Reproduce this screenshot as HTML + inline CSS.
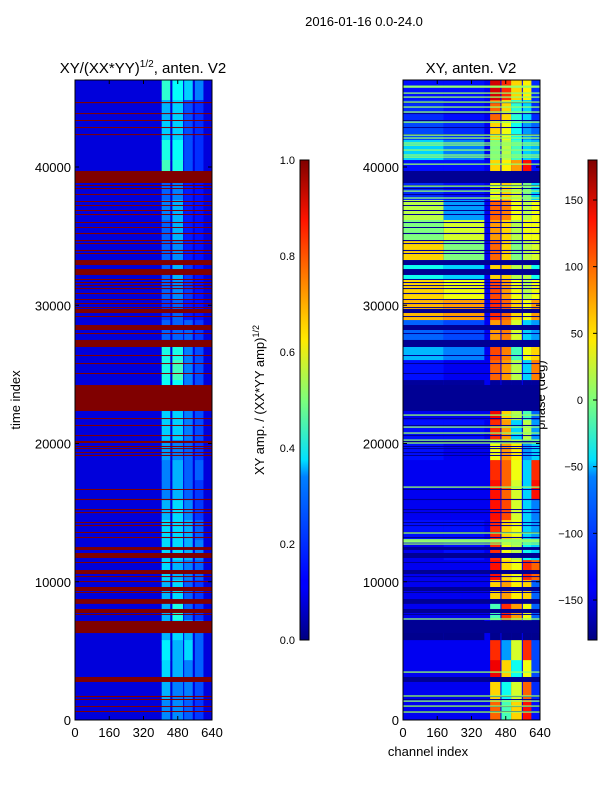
<!DOCTYPE html>
<html><head><meta charset="utf-8"><style>
html,body{margin:0;padding:0;background:#fff;width:600px;height:800px;overflow:hidden}
text{font-family:"Liberation Sans","DejaVu Sans",sans-serif;fill:#000}
</style></head><body>
<svg id="fig" width="600" height="800" viewBox="0 0 600 800" xmlns="http://www.w3.org/2000/svg">
<defs>
<linearGradient id="jetg" x1="0" y1="1" x2="0" y2="0">
<stop offset="0" stop-color="#000080"/><stop offset="0.11" stop-color="#0000ff"/><stop offset="0.125" stop-color="#0000ff"/><stop offset="0.34" stop-color="#0080ff"/><stop offset="0.375" stop-color="#00e0ff"/><stop offset="0.5" stop-color="#7dff7a"/><stop offset="0.625" stop-color="#ffea00"/><stop offset="0.66" stop-color="#ffd000"/><stop offset="0.875" stop-color="#ff1300"/><stop offset="1" stop-color="#800000"/>
</linearGradient>
<clipPath id="clipL"><rect x="75" y="80" width="137" height="640"/></clipPath>
<clipPath id="clipR"><rect x="403" y="80" width="137" height="640"/></clipPath>
</defs>
<text x="364" y="26" font-size="13" text-anchor="middle">2016-01-16 0.0-24.0</text>
<text x="143" y="73" font-size="15" text-anchor="middle">XY/(XX*YY)<tspan font-size="10" dy="-6">1/2</tspan><tspan dy="6">, anten. V2</tspan></text>
<text x="471" y="73" font-size="15" text-anchor="middle">XY, anten. V2</text>
<text x="20" y="400" font-size="13" text-anchor="middle" transform="rotate(-90 20 400)">time index</text>
<text x="428" y="756" font-size="13" text-anchor="middle">channel index</text>
<text x="545" y="395" font-size="13" text-anchor="middle" transform="rotate(-90 545 395)">phase (deg)</text>
<g id="gL" clip-path="url(#clipL)"></g>
<g id="gR" clip-path="url(#clipR)"></g>
<rect x="75" y="80" width="137" height="640" fill="none" stroke="#000" stroke-width="1"/>
<rect x="403" y="80" width="137" height="640" fill="none" stroke="#000" stroke-width="1"/>
<g id="axes"></g>
<text x="264" y="400" font-size="13" text-anchor="middle" transform="rotate(-90 264 400)">XY amp. / (XX*YY amp)<tspan font-size="9" dy="-5">1/2</tspan></text>
<rect x="300" y="160" width="9" height="480" fill="url(#jetg)" stroke="#000" stroke-width="1"/>
<rect x="588" y="160" width="9" height="480" fill="url(#jetg)" stroke="#000" stroke-width="1"/>
</svg>
<script>
// ---- data ----
const flaggedStart=[44620,43830,43330,42820,42310,38840,38630,38410,37980,37470,37180,36820,36530,35950,35590,35150,34640,34430,33920,33710,32910,32190,31830,31610,31390,31170,30810,30380,30090,29800,29440,29150,28210,27920,26980,26330,25750,25030,22350,21770,21270,20540,20040,19750,19600,19310,19100,16640,15910,15190,14970,14250,14030,13530,13160,12300,11720,11360,10560,10340,9980,9330,9190,8400,7740,7600,6290,2750,1660,1450,940,580];
const flaggedEnd=[44700,43900,43400,42890,42380,39710,38700,38480,38050,37540,37250,36890,36600,36020,35660,35230,34720,34500,34000,33780,33270,32620,31900,31680,31460,31250,30890,30450,30160,29870,29730,29220,28570,27990,27490,26400,25820,25100,24230,21840,21340,20610,20180,19820,19670,19380,19170,16710,15990,15260,15040,14320,14100,13600,13240,12510,12080,11430,10850,10410,10050,9620,9260,8750,8030,7670,7160,3110,1740,1520,1010,650];
const rowSize=1447;
const ampSegStart=[405,455,510,560];
const ampSegEnd=[445,505,550,600];
const ampBackground=0.09;
// rows listed top (latest time) to bottom
const ampRows=[
[0.42,0.38,0.33,0.25],[0.3,0.33,0.2,0.17],[0.33,0.33,0.2,0.17],[0.4,0.38,0.2,0.17],
[0.44,0.4,0.2,0.17],[0.22,0.25,0.15,0.14],[0.25,0.3,0.15,0.14],[0.22,0.3,0.15,0.14],
[0.22,0.26,0.15,0.14],[0.22,0.3,0.18,0.14],[0.22,0.26,0.18,0.14],[0.18,0.22,0.15,0.14],
[0.22,0.22,0.22,0.18],[0.4,0.4,0.25,0.2],[0.4,0.44,0.25,0.2],[0.38,0.38,0.25,0.2],
[0.33,0.33,0.25,0.2],[0.33,0.33,0.25,0.2],[0.28,0.25,0.22,0.18],[0.25,0.3,0.22,0.22],
[0.25,0.3,0.22,0.18],[0.3,0.34,0.26,0.18],[0.34,0.34,0.3,0.22],[0.34,0.34,0.3,0.25],
[0.34,0.3,0.25,0.22],[0.3,0.34,0.22,0.18],[0.3,0.4,0.22,0.18],[0.3,0.34,0.3,0.22],
[0.36,0.3,0.34,0.22],[0.34,0.3,0.25,0.22],[0.3,0.25,0.25,0.2],[0.26,0.26,0.22,0.18]];
const phSegStart=[0,190,407,460,505,560,600];
const phSegEnd=[190,380,455,505,555,600,640];
const phRows=[
[-130,-130,150,120,60,50,-120],[-120,-130,100,60,-30,-60,-120],[-110,-120,60,40,-40,-80,-100],[-60,-90,0,20,-20,-60,-70],
[-130,-130,60,50,80,130,-130],[-120,-130,40,60,30,0,-60],[20,-80,100,90,40,20,40],[0,30,80,60,20,40,40],
[60,0,100,60,0,20,30],[-40,-60,60,60,20,20,-40],[60,40,110,80,40,20,40],[70,80,120,100,60,40,80],
[-100,-110,80,90,30,-60,-80],[-70,-90,110,90,-20,40,60],[-130,-140,100,80,20,-60,90],[-170,-170,-170,-170,-170,-170,-170],
[-140,-140,140,60,20,-20,-100],[-130,-130,120,80,-60,20,-80],[-130,-140,40,80,50,-80,-60],[-140,-140,120,100,40,-60,120],
[-140,-140,130,100,30,-60,130],[-140,-140,130,110,30,-60,-90],[-130,-130,120,60,40,-60,-80],[-140,-130,120,40,20,-40,-60],
[-140,-140,130,60,40,120,100],[-140,-140,60,80,50,60,-100],[-140,-140,-20,120,80,40,-100],[-175,-175,-175,-175,-175,-175,-175],
[-140,-140,120,-80,30,120,-110],[-140,-140,140,60,-40,40,-110],[-140,-140,60,-40,30,100,-120],[-140,-140,100,-20,60,130,-130]];
const phBackground=-140;
const greenLineTimes=[45780,45850,45350,45060,44700,44340,43980,43250,42310,42100,41740,41590,41230,40870,40720,40210,38620,38260,37760,22060,21190,20760,20250,20040,16850,13530,12880,12960,13040,12730,7310,3470,1740,1370,1010,580];
const timeTicks=[0,10000,20000,30000,40000];
const chanTicks=[0,160,320,480,640];
const ampTicks=[0,0.2,0.4,0.6,0.8,1.0];
const ampTickLabels=["0.0","0.2","0.4","0.6","0.8","1.0"];
const phTicks=[-150,-100,-50,0,50,100,150];
const phTickLabels=["\u2212150","\u2212100","\u221250","0","50","100","150"];
// ---- scales ----
const NS="http://www.w3.org/2000/svg";
const yT=t=>720-t*0.013825;
const xL=c=>75+c*137/640;
const xR=c=>403+c*137/640;
const yAmp=v=>640-v*480;
const yPh=p=>400-p*480/360;
function jet(v){v=Math.max(0,Math.min(1,v));const cl=x=>Math.round(255*Math.max(0,Math.min(1,x)));
return `rgb(${cl(1.5-Math.abs(4*v-3))},${cl(1.5-Math.abs(4*v-2))},${cl(1.5-Math.abs(4*v-1))})`;}
function mk(tag,attrs,parent){const e=document.createElementNS(NS,tag);for(const k in attrs)e.setAttribute(k,attrs[k]);parent.appendChild(e);return e;}
const gL=document.getElementById('gL'),gR=document.getElementById('gR'),ax=document.getElementById('axes');
const tTop=(720-80)/0.013825;
let bgL=mk('rect',{x:xL(0),y:80,width:137,height:640,fill:jet(ampBackground)},gL);


let bgR=mk('rect',{x:xR(0),y:80,width:137,height:640,fill:jet((phBackground+180)/360)},gR);


for(let i=0;i<ampRows.length;i++){
  const t1=tTop-i*rowSize, t0=t1-rowSize;
  for(let j=0;j<ampSegStart.length;j++){
    const r=mk('rect',{x:xL(ampSegStart[j]),y:yT(t1),width:xL(ampSegEnd[j])-xL(ampSegStart[j]),height:yT(t0)-yT(t1)+0.5,fill:jet(ampRows[i][j])},gL);
    
    
  }
}
for(let i=0;i<phRows.length;i++){
  const t1=tTop-i*rowSize, t0=t1-rowSize;
  for(let j=0;j<phSegStart.length;j++){
    const r=mk('rect',{x:xR(phSegStart[j]),y:yT(t1),width:xR(phSegEnd[j])-xR(phSegStart[j]),height:yT(t0)-yT(t1)+0.5,fill:jet((phRows[i][j]+180)/360)},gR);
    
    
  }
}
for(let k=0;k<flaggedStart.length;k++){
  const h=Math.max(1,yT(flaggedStart[k])-yT(flaggedEnd[k]));
  const a=mk('rect',{x:75,y:yT(flaggedEnd[k]),width:137,height:h,fill:jet(1)},gL);
  
  
  const b=mk('rect',{x:403,y:yT(flaggedEnd[k]),width:137,height:h,fill:jet(0.02)},gR);
  
  
}
for(const t of greenLineTimes){
  const g=mk('rect',{x:403,y:yT(t)-0.6,width:137,height:1.3,fill:jet(0.52)},gR);
  
  
}
function txt(x,y,s,anchor,size,name){const e=mk('text',{x:x,y:y,'font-size':size,'text-anchor':anchor},ax);e.textContent=s;

return e;}
for(const t of timeTicks){
  for(const x0 of [75,403]){
    mk('line',{x1:x0,x2:x0+4,y1:yT(t),y2:yT(t),stroke:'#000'},ax);
    mk('line',{x1:x0+137,x2:x0+133,y1:yT(t),y2:yT(t),stroke:'#000'},ax);
    txt(x0-4,yT(t)+5,String(t),'end',13,'y-tick-label');
  }
}
for(const c of chanTicks){
  for(const f of [xL,xR]){
    mk('line',{x1:f(c),x2:f(c),y1:720,y2:716,stroke:'#000'},ax);
    mk('line',{x1:f(c),x2:f(c),y1:80,y2:84,stroke:'#000'},ax);
    txt(f(c),737,String(c),'middle',13,'x-tick-label');
  }
}
ampTicks.forEach((v,i)=>{mk('line',{x1:305,x2:309,y1:yAmp(v),y2:yAmp(v),stroke:'#000'},ax);
  txt(295,yAmp(v)+4,ampTickLabels[i],'end',11,'amp-colorbar-tick');});
phTicks.forEach((v,i)=>{txt(583,yPh(v)+4,phTickLabels[i],'end',11,'phase-colorbar-tick');});
const svg=document.getElementById('fig');
phTicks.forEach(v=>{mk('line',{x1:593,x2:597,y1:yPh(v),y2:yPh(v),stroke:'#000'},svg);});
</script>
</body></html>
